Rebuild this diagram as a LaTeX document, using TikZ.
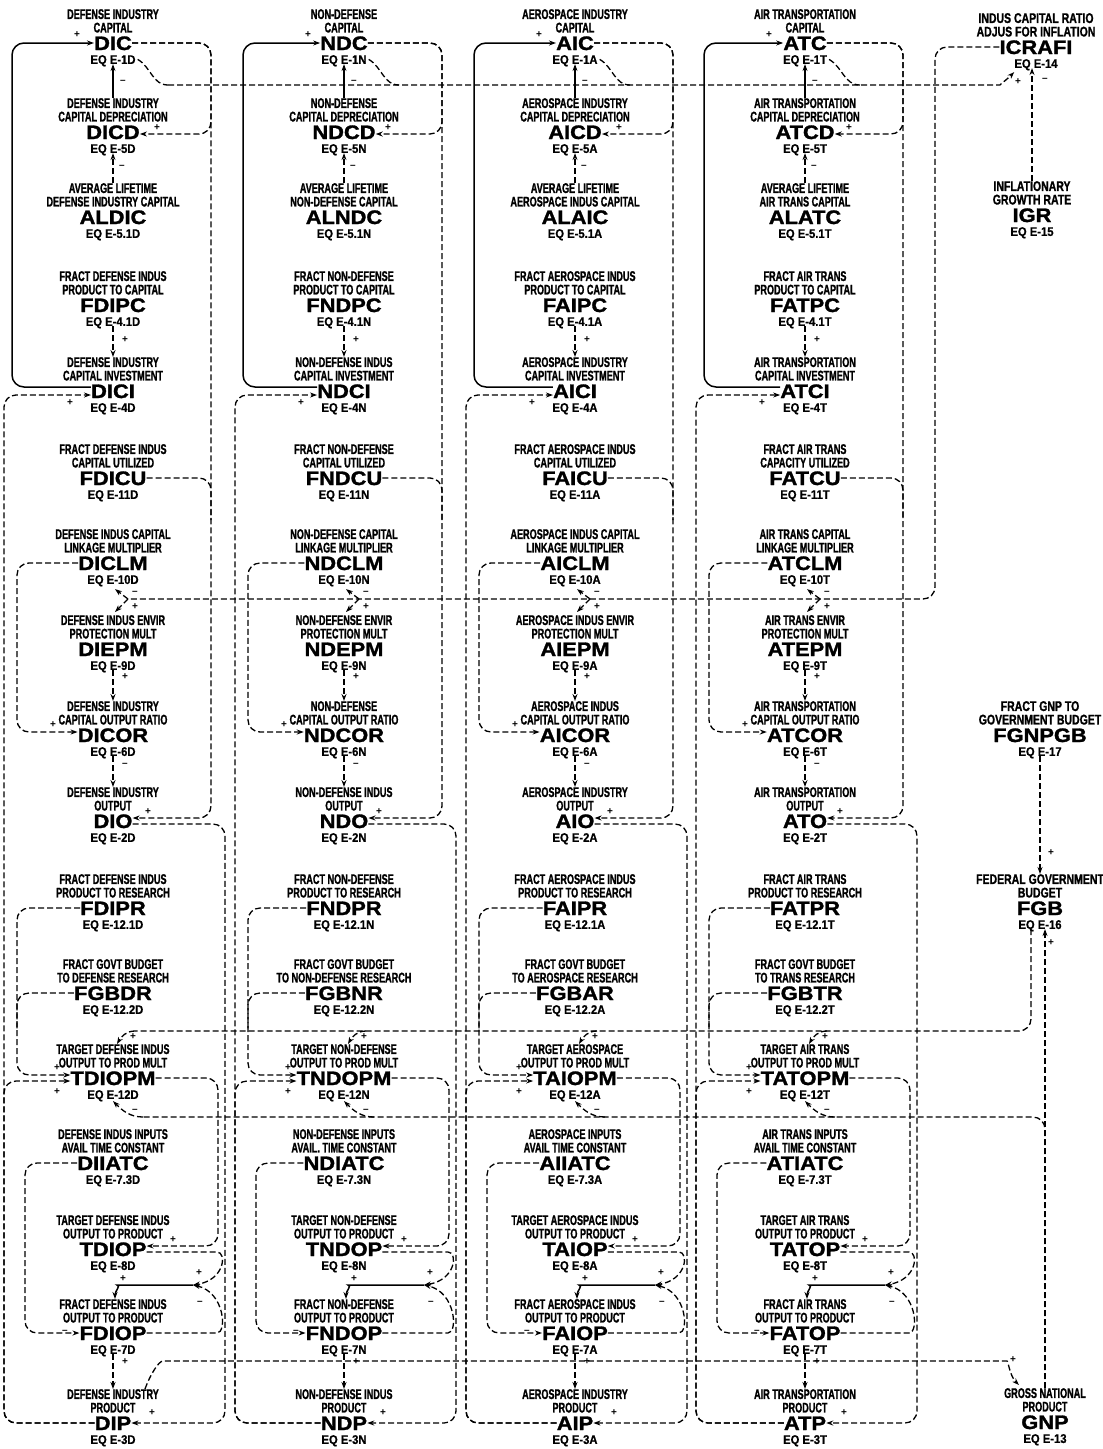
\documentclass[tikz,border=0pt]{standalone}
\usepackage{fontspec}
\setmainfont{Liberation Sans}
\newfontfamily\labfont[FakeStretch=0.65,FakeBold=1.2]{Liberation Sans}
\newfontfamily\rlabfont[FakeStretch=0.75,FakeBold=1.2]{Liberation Sans}
\newfontfamily\namefont[FakeStretch=1.12,FakeBold=1.5]{Liberation Sans}
\newfontfamily\eqfont[FakeStretch=0.9,FakeBold=0.8]{Liberation Sans}
\usetikzlibrary{arrows.meta,positioning,calc}

\tikzset{
  vname/.style={inner sep=0pt,text height=14pt,text depth=0pt,
    font=\namefont\bfseries\fontsize{19.5}{19.5}\selectfont},
  vlab/.style={inner sep=0pt,align=center,
    font=\labfont\bfseries\fontsize{14}{13.5}\selectfont},
  rlab/.style={vlab,font=\rlabfont\bfseries\fontsize{14}{13.5}\selectfont},
  veq/.style={inner sep=0pt,text height=9pt,text depth=0pt,
    font=\eqfont\bfseries\fontsize{12.5}{12.5}\selectfont},
  line/.style={dash pattern=on 6pt off 3pt,line width=1.3pt,rounded corners=12pt},
  link/.style={line,-{Stealth[length=7pt,width=5pt]}},
  flow/.style={line width=1.5pt,rounded corners=12pt,-{Stealth[length=7pt,width=5pt]}},
  sgn/.style={inner sep=0pt,font=\bfseries\fontsize{10}{10}\selectfont}
}
% [label style] id, x, y, label, name, equation
\newcommand{\varnode}[7][vlab]{%
  \node[vname] (#2) at (#3,#4) {#6};
  \node[#1,above=3pt of #2] (#2-l) {#5};
  \node[veq,below=4.5pt of #2] (#2-e) {#7};
}

\begin{document}
\begin{tikzpicture}[x=1pt,y=1pt]
  \useasboundingbox (0,0) rectangle (1103,-1449);

  % defense industry
  \foreach \y/\id/\lab/\nm/\q in {
    43/cap/{DEFENSE INDUSTRY\\CAPITAL}/DIC/1,
    132/dep/{DEFENSE INDUSTRY\\CAPITAL DEPRECIATION}/DICD/5,
    217/life/{AVERAGE LIFETIME\\DEFENSE INDUSTRY CAPITAL}/ALDIC/5.1,
    305/fpc/{FRACT DEFENSE INDUS\\PRODUCT TO CAPITAL}/FDIPC/4.1,
    391/inv/{DEFENSE INDUSTRY\\CAPITAL INVESTMENT}/DICI/4,
    478/fcu/{FRACT DEFENSE INDUS\\CAPITAL UTILIZED}/FDICU/11,
    563/clm/{DEFENSE INDUS CAPITAL\\LINKAGE MULTIPLIER}/DICLM/10,
    649/epm/{DEFENSE INDUS ENVIR\\PROTECTION MULT}/DIEPM/9,
    735/cor/{DEFENSE INDUSTRY\\CAPITAL OUTPUT RATIO}/DICOR/6,
    821/out/{DEFENSE INDUSTRY\\OUTPUT}/DIO/2,
    908/fpr/{FRACT DEFENSE INDUS\\PRODUCT TO RESEARCH}/FDIPR/12.1,
    993/fgb/{FRACT GOVT BUDGET\\TO DEFENSE RESEARCH}/FGBDR/12.2,
    1078/tpm/{TARGET DEFENSE INDUS\\OUTPUT TO PROD MULT}/TDIOPM/12,
    1163/iatc/{DEFENSE INDUS INPUTS\\AVAIL TIME CONSTANT}/DIIATC/7.3,
    1249/top/{TARGET DEFENSE INDUS\\OUTPUT TO PRODUCT}/TDIOP/8,
    1333/fop/{FRACT DEFENSE INDUS\\OUTPUT TO PRODUCT}/FDIOP/7,
    1423/prod/{DEFENSE INDUSTRY\\PRODUCT}/DIP/3}
    \varnode{D-\id}{113}{-\y}{\lab}{\nm}{EQ E-\q D};

  % non-defense
  \foreach \y/\id/\lab/\nm/\q in {
    43/cap/{NON-DEFENSE\\CAPITAL}/NDC/1,
    132/dep/{NON-DEFENSE\\CAPITAL DEPRECIATION}/NDCD/5,
    217/life/{AVERAGE LIFETIME\\NON-DEFENSE CAPITAL}/ALNDC/5.1,
    305/fpc/{FRACT NON-DEFENSE\\PRODUCT TO CAPITAL}/FNDPC/4.1,
    391/inv/{NON-DEFENSE INDUS\\CAPITAL INVESTMENT}/NDCI/4,
    478/fcu/{FRACT NON-DEFENSE\\CAPITAL UTILIZED}/FNDCU/11,
    563/clm/{NON-DEFENSE CAPITAL\\LINKAGE MULTIPLIER}/NDCLM/10,
    649/epm/{NON-DEFENSE ENVIR\\PROTECTION MULT}/NDEPM/9,
    735/cor/{NON-DEFENSE\\CAPITAL OUTPUT RATIO}/NDCOR/6,
    821/out/{NON-DEFENSE INDUS\\OUTPUT}/NDO/2,
    908/fpr/{FRACT NON-DEFENSE\\PRODUCT TO RESEARCH}/FNDPR/12.1,
    993/fgb/{FRACT GOVT BUDGET\\TO NON-DEFENSE RESEARCH}/FGBNR/12.2,
    1078/tpm/{TARGET NON-DEFENSE\\OUTPUT TO PROD MULT}/TNDOPM/12,
    1163/iatc/{NON-DEFENSE INPUTS\\AVAIL. TIME CONSTANT}/NDIATC/7.3,
    1249/top/{TARGET NON-DEFENSE\\OUTPUT TO PRODUCT}/TNDOP/8,
    1333/fop/{FRACT NON-DEFENSE\\OUTPUT TO PRODUCT}/FNDOP/7,
    1423/prod/{NON-DEFENSE INDUS\\PRODUCT}/NDP/3}
    \varnode{N-\id}{344}{-\y}{\lab}{\nm}{EQ E-\q N};

  % aerospace
  \foreach \y/\id/\lab/\nm/\q in {
    43/cap/{AEROSPACE INDUSTRY\\CAPITAL}/AIC/1,
    132/dep/{AEROSPACE INDUSTRY\\CAPITAL DEPRECIATION}/AICD/5,
    217/life/{AVERAGE LIFETIME\\AEROSPACE INDUS CAPITAL}/ALAIC/5.1,
    305/fpc/{FRACT AEROSPACE INDUS\\PRODUCT TO CAPITAL}/FAIPC/4.1,
    391/inv/{AEROSPACE INDUSTRY\\CAPITAL INVESTMENT}/AICI/4,
    478/fcu/{FRACT AEROSPACE INDUS\\CAPITAL UTILIZED}/FAICU/11,
    563/clm/{AEROSPACE INDUS CAPITAL\\LINKAGE MULTIPLIER}/AICLM/10,
    649/epm/{AEROSPACE INDUS ENVIR\\PROTECTION MULT}/AIEPM/9,
    735/cor/{AEROSPACE INDUS\\CAPITAL OUTPUT RATIO}/AICOR/6,
    821/out/{AEROSPACE INDUSTRY\\OUTPUT}/AIO/2,
    908/fpr/{FRACT AEROSPACE INDUS\\PRODUCT TO RESEARCH}/FAIPR/12.1,
    993/fgb/{FRACT GOVT BUDGET\\TO AEROSPACE RESEARCH}/FGBAR/12.2,
    1078/tpm/{TARGET AEROSPACE\\OUTPUT TO PROD MULT}/TAIOPM/12,
    1163/iatc/{AEROSPACE INPUTS\\AVAIL TIME CONSTANT}/AIIATC/7.3,
    1249/top/{TARGET AEROSPACE INDUS\\OUTPUT TO PRODUCT}/TAIOP/8,
    1333/fop/{FRACT AEROSPACE INDUS\\OUTPUT TO PRODUCT}/FAIOP/7,
    1423/prod/{AEROSPACE INDUSTRY\\PRODUCT}/AIP/3}
    \varnode{A-\id}{575}{-\y}{\lab}{\nm}{EQ E-\q A};

  % air transportation
  \foreach \y/\id/\lab/\nm/\q in {
    43/cap/{AIR TRANSPORTATION\\CAPITAL}/ATC/1,
    132/dep/{AIR TRANSPORTATION\\CAPITAL DEPRECIATION}/ATCD/5,
    217/life/{AVERAGE LIFETIME\\AIR TRANS CAPITAL}/ALATC/5.1,
    305/fpc/{FRACT AIR TRANS\\PRODUCT TO CAPITAL}/FATPC/4.1,
    391/inv/{AIR TRANSPORTATION\\CAPITAL INVESTMENT}/ATCI/4,
    478/fcu/{FRACT AIR TRANS\\CAPACITY UTILIZED}/FATCU/11,
    563/clm/{AIR TRANS CAPITAL\\LINKAGE MULTIPLIER}/ATCLM/10,
    649/epm/{AIR TRANS ENVIR\\PROTECTION MULT}/ATEPM/9,
    735/cor/{AIR TRANSPORTATION\\CAPITAL OUTPUT RATIO}/ATCOR/6,
    821/out/{AIR TRANSPORTATION\\OUTPUT}/ATO/2,
    908/fpr/{FRACT AIR TRANS\\PRODUCT TO RESEARCH}/FATPR/12.1,
    993/fgb/{FRACT GOVT BUDGET\\TO TRANS RESEARCH}/FGBTR/12.2,
    1078/tpm/{TARGET AIR TRANS\\OUTPUT TO PROD MULT}/TATOPM/12,
    1163/iatc/{AIR TRANS INPUTS\\AVAIL TIME CONSTANT}/ATIATC/7.3,
    1249/top/{TARGET AIR TRANS\\OUTPUT TO PRODUCT}/TATOP/8,
    1333/fop/{FRACT AIR TRANS\\OUTPUT TO PRODUCT}/FATOP/7,
    1423/prod/{AIR TRANSPORTATION\\PRODUCT}/ATP/3}
    \varnode{T-\id}{805}{-\y}{\lab}{\nm}{EQ E-\q T};

  % national level
  \varnode[rlab]{ICRAFI}{1036}{-47}{INDUS CAPITAL RATIO\\ADJUS FOR INFLATION}{ICRAFI}{EQ E-14}
  \varnode[rlab]{IGR}{1032}{-215}{INFLATIONARY\\GROWTH RATE}{IGR}{EQ E-15}
  \varnode[rlab]{FGNPGB}{1040}{-735}{FRACT GNP TO\\GOVERNMENT BUDGET}{FGNPGB}{EQ E-17}
  \varnode[rlab]{FGB}{1040}{-908}{FEDERAL GOVERNMENT\\BUDGET}{FGB}{EQ E-16}
  \varnode{GNP}{1045}{-1422}{GROSS NATIONAL\\PRODUCT}{GNP}{EQ E-13}

  \foreach \c/\x in {D/113,N/344,A/575,T/805}{
    \coordinate (\c-m) at (\x+55,-85);
    \coordinate (\c-j) at (\x+15,-599);
    \coordinate (\c-g) at (\x+22,-1031);
    \coordinate (\c-h) at (\x+30,-1117);
    \coordinate (\c-k) at (\x+80,-1285);
    % capital
    \draw[flow] ([yshift=4pt]\c-inv.west) -| (\x-101,-200) |- (\c-cap.west);
    \draw[flow] (\c-dep-l.north) -- (\c-cap-e.south);
    \draw[link] (\c-life-l.north) -- (\c-dep-e.south);
    \draw[link] (\c-fpc-e.south) -- (\c-inv-l.north);
    \draw[link] (\c-cap.east) -| (\x+98,-80) |- ([yshift=-2pt]\c-dep.east);
    \draw[link] (\c-cap.east) -| (\x+98,-400) |- ([yshift=3pt]\c-out.east);
    \draw[line] (\c-fcu.east) -| (\x+98,-520);
    \draw[line] ([xshift=2pt]\c-cap-e.east) to[out=-30,in=180] (\c-m);
    % output
    \draw[link] (\c-j) -- ([shift={(2,-5)}]\c-clm-e.south);
    \draw[link] (\c-j) -- ([shift={(2,3)}]\c-epm-l.north);
    \draw[link] (\c-clm.west) -| (\x-96,-650) |- ([yshift=3pt]\c-cor.west);
    \draw[link] (\c-epm-e.south) -- (\c-cor-l.north);
    \draw[link] (\c-cor-e.south) -- (\c-out-l.north);
    \draw[link] ([yshift=-3pt]\c-out.east) -| (\x+112,-1100) |- (\c-prod.east);
    % product
    \draw[link] (\c-fpr.west) -| (\x-96,-1000) |- ([yshift=3pt]\c-tpm.west);
    \draw[line] (\c-fgb.west) -| (\x-96,-1030);
    \draw[link] (\c-prod.west) -| (\x-109,-900) |- ([yshift=-4pt]\c-inv.west);
    \draw[link] (\c-prod.west) -| (\x-109,-1200) |- ([yshift=-3pt]\c-tpm.west);
    \draw[link] (\c-g) to[out=180,in=60] ([xshift=4pt]\c-tpm-l.north);
    \draw[link] (\c-h) to[out=180,in=-45] ([yshift=-2pt]\c-tpm-e.south);
    \draw[link] (\c-tpm.east) -| (\x+105,-1150) |- ([yshift=3pt]\c-top.east);
    \draw[link] (\c-iatc.west) -| (\x-88,-1250) |- (\c-fop.west);
    \draw[link] ([yshift=-3pt]\c-top.east) -- (\x+92,-1252)
      .. controls (\x+114,-1252) and (\x+112,-1280) .. (\c-k);
    \draw[link] (\c-fop.east) -- (\x+92,-1333)
      .. controls (\x+114,-1333) and (\x+112,-1292) .. (\c-k);
    \draw[flow] (\c-k) -- (\x+16,-1285) to[out=180,in=90] ([xshift=2pt]\c-fop-l.north);
    \draw[link] (\c-fop-e.south) -- (\c-prod-l.north);
    % signs
    \foreach \sn/\dx/\dy/\sg in {a/-36/35/+, b/10/82/–, c/9/167/–, d/44/128/+,
        e/12/340/+, f/-43/403/+, g/22/593/–, h/22/607/+, i/-60/725/+,
        j/12/677/+, k/12/765/–, l/35/812/+, m/-56/1068/+, n/-56/1092/+,
        o/20/1037/+, p/22/1111/–, q/60/1240/+, r/86/1273/+, s/87/1303/–,
        t/10/1279/+, u/-48/1332/–, v/12/1362/+, w/39/1413/+}
      \node[sgn] (\c-s\sn) at (\x+\dx,-\dy) {\sg};
  }

  % capital ratio adjusted for inflation
  \draw[link] (D-m) -- (988,-85) to[out=0,in=225] ([yshift=-4pt]ICRAFI-e.south west);
  \draw[link] (IGR-l.north) -- (IGR-l.north |- ICRAFI-e.south);
  \draw[line] (ICRAFI.west) -| (935,-300) |- (D-j);
  % government budget and gnp
  \draw[link] (FGNPGB-e.south) -- (FGB-l.north);
  \draw[link] (GNP-l.north) -- (GNP-l.north |- FGB-e.south);
  \draw[line] ([xshift=-9pt]FGB-e.south) |- (D-g);
  \draw[line] (GNP-l.north) |- (D-h);
  \draw[link] ([xshift=32pt]D-prod-l.north) to[out=70,in=180] (175,-1361)
    -- (995,-1361) to[out=0,in=135] ([xshift=15pt,yshift=3pt]GNP-l.north west);
  \node[sgn] (ICRAFI-s1) at (1018,-82) {+};
  \node[sgn] (ICRAFI-s2) at (1045,-80) {–};
  \node[sgn] (FGB-s1) at (1051,-853) {+};
  \node[sgn] (FGB-s2) at (1051,-943) {+};
  \node[sgn] (GNP-s1) at (1013,-1360) {+};
\end{tikzpicture}
\end{document}
